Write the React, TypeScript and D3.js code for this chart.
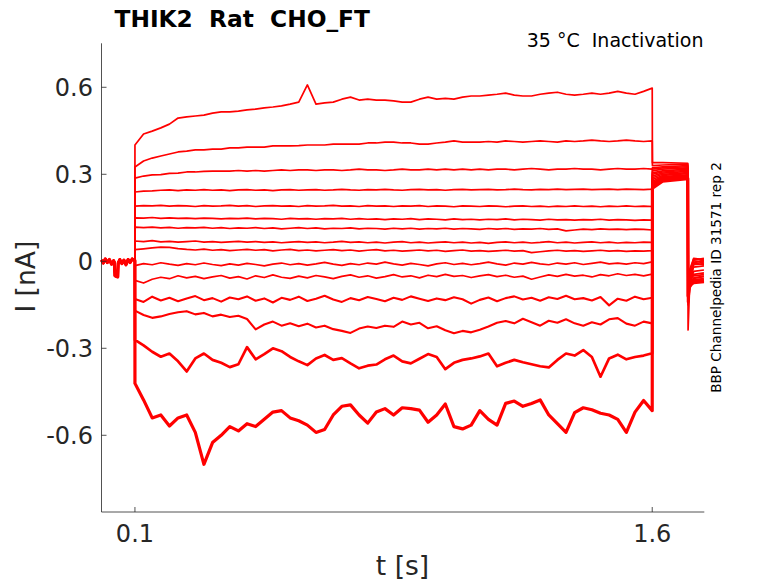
import * as d3 from 'd3';

// holding-current baseline before the step (shared by all sweeps)
const baseTimes = [0.003, 0.008, 0.014, 0.02, 0.026, 0.032, 0.038, 0.0405, 0.042, 0.05, 0.0515, 0.056, 0.062, 0.068, 0.074, 0.08, 0.086, 0.092, 0.0998];
const baseValues = [0.004, -0.006, 0.008, -0.004, 0.006, -0.010, 0.002, -0.004, -0.050, -0.054, -0.006, 0.006, -0.008, 0.004, -0.012, 0.006, -0.004, 0.008, 0.002];

// sample times during the conditioning step (s)
const stepTimes = [
  0.100, 0.125, 0.150, 0.175, 0.200, 0.225, 0.250, 0.275, 0.300, 0.325,
  0.350, 0.375, 0.400, 0.425, 0.450, 0.475, 0.500, 0.525, 0.550, 0.575,
  0.600, 0.625, 0.650, 0.675, 0.700, 0.725, 0.750, 0.775, 0.800, 0.825,
  0.850, 0.875, 0.900, 0.925, 0.950, 0.975, 1.000, 1.025, 1.050, 1.075,
  1.100, 1.125, 1.150, 1.175, 1.200, 1.225, 1.250, 1.275, 1.300, 1.325,
  1.350, 1.375, 1.400, 1.425, 1.450, 1.475, 1.500, 1.525, 1.550, 1.575,
  1.600,
];

// current during the step, one array per sweep (nA)
const sweep1 = [0.401, 0.439, 0.449, 0.460, 0.473, 0.494, 0.498, 0.501, 0.504, 0.511, 0.515, 0.515, 0.518, 0.522, 0.525, 0.529, 0.532, 0.536, 0.542, 0.549, 0.608, 0.542, 0.546, 0.549, 0.559, 0.566, 0.556, 0.559, 0.556, 0.556, 0.553, 0.549, 0.549, 0.559, 0.566, 0.559, 0.562, 0.559, 0.566, 0.570, 0.570, 0.573, 0.576, 0.580, 0.573, 0.570, 0.570, 0.576, 0.580, 0.583, 0.576, 0.573, 0.576, 0.580, 0.576, 0.580, 0.586, 0.580, 0.576, 0.586, 0.597];
const sweep2 = [0.325, 0.346, 0.356, 0.363, 0.370, 0.377, 0.380, 0.384, 0.384, 0.387, 0.387, 0.391, 0.391, 0.394, 0.394, 0.394, 0.398, 0.398, 0.398, 0.399, 0.401, 0.401, 0.401, 0.404, 0.404, 0.404, 0.404, 0.408, 0.408, 0.411, 0.411, 0.408, 0.408, 0.404, 0.404, 0.408, 0.411, 0.415, 0.411, 0.411, 0.411, 0.413, 0.411, 0.415, 0.413, 0.411, 0.413, 0.415, 0.413, 0.411, 0.415, 0.413, 0.415, 0.418, 0.415, 0.413, 0.415, 0.418, 0.415, 0.413, 0.415];
const sweep3 = [0.287, 0.294, 0.298, 0.299, 0.303, 0.304, 0.308, 0.308, 0.310, 0.311, 0.311, 0.311, 0.313, 0.311, 0.313, 0.311, 0.313, 0.315, 0.313, 0.315, 0.315, 0.313, 0.315, 0.315, 0.313, 0.315, 0.318, 0.315, 0.315, 0.313, 0.315, 0.318, 0.315, 0.315, 0.318, 0.315, 0.318, 0.315, 0.318, 0.315, 0.318, 0.315, 0.318, 0.318, 0.315, 0.318, 0.320, 0.318, 0.315, 0.318, 0.318, 0.320, 0.318, 0.318, 0.315, 0.318, 0.320, 0.318, 0.318, 0.320, 0.318];
const sweep4 = [0.239, 0.242, 0.243, 0.245, 0.246, 0.244, 0.246, 0.245, 0.247, 0.245, 0.246, 0.244, 0.246, 0.247, 0.245, 0.246, 0.244, 0.246, 0.247, 0.245, 0.246, 0.247, 0.245, 0.246, 0.248, 0.246, 0.245, 0.247, 0.246, 0.248, 0.246, 0.245, 0.247, 0.248, 0.246, 0.247, 0.245, 0.247, 0.248, 0.246, 0.247, 0.248, 0.246, 0.247, 0.249, 0.247, 0.246, 0.248, 0.247, 0.249, 0.247, 0.248, 0.249, 0.247, 0.248, 0.249, 0.247, 0.249, 0.248, 0.247, 0.249];
const sweep5 = [0.190, 0.192, 0.191, 0.193, 0.190, 0.192, 0.191, 0.189, 0.192, 0.190, 0.191, 0.193, 0.190, 0.192, 0.189, 0.191, 0.192, 0.190, 0.191, 0.189, 0.192, 0.190, 0.191, 0.193, 0.190, 0.191, 0.189, 0.192, 0.190, 0.191, 0.189, 0.191, 0.190, 0.192, 0.189, 0.191, 0.190, 0.188, 0.191, 0.190, 0.189, 0.191, 0.190, 0.188, 0.190, 0.191, 0.189, 0.190, 0.188, 0.190, 0.189, 0.191, 0.189, 0.190, 0.188, 0.190, 0.189, 0.191, 0.189, 0.190, 0.189];
const sweep6 = [0.150, 0.149, 0.151, 0.148, 0.150, 0.148, 0.149, 0.147, 0.149, 0.148, 0.146, 0.148, 0.147, 0.149, 0.146, 0.148, 0.147, 0.145, 0.148, 0.146, 0.147, 0.145, 0.147, 0.146, 0.148, 0.145, 0.147, 0.145, 0.146, 0.144, 0.146, 0.145, 0.147, 0.144, 0.146, 0.145, 0.143, 0.146, 0.144, 0.145, 0.143, 0.145, 0.144, 0.146, 0.143, 0.145, 0.144, 0.142, 0.145, 0.143, 0.144, 0.142, 0.144, 0.143, 0.145, 0.142, 0.144, 0.143, 0.141, 0.143, 0.142];
const sweep7 = [0.118, 0.116, 0.118, 0.115, 0.117, 0.114, 0.116, 0.115, 0.117, 0.114, 0.116, 0.113, 0.115, 0.114, 0.116, 0.113, 0.115, 0.112, 0.114, 0.116, 0.113, 0.115, 0.112, 0.114, 0.113, 0.115, 0.112, 0.114, 0.113, 0.111, 0.114, 0.112, 0.114, 0.111, 0.113, 0.112, 0.114, 0.111, 0.113, 0.112, 0.110, 0.113, 0.111, 0.113, 0.110, 0.112, 0.111, 0.113, 0.110, 0.112, 0.105, 0.108, 0.111, 0.109, 0.112, 0.110, 0.111, 0.109, 0.111, 0.110, 0.108];
const sweep8 = [0.070, 0.068, 0.071, 0.067, 0.069, 0.066, 0.068, 0.070, 0.066, 0.068, 0.065, 0.067, 0.069, 0.066, 0.068, 0.065, 0.067, 0.064, 0.066, 0.068, 0.065, 0.067, 0.064, 0.066, 0.069, 0.065, 0.067, 0.064, 0.066, 0.063, 0.066, 0.068, 0.064, 0.066, 0.063, 0.065, 0.067, 0.064, 0.066, 0.063, 0.065, 0.062, 0.065, 0.067, 0.064, 0.066, 0.063, 0.065, 0.068, 0.064, 0.066, 0.063, 0.065, 0.067, 0.064, 0.066, 0.063, 0.065, 0.064, 0.066, 0.065];
const sweep9 = [0.040, 0.043, 0.046, 0.049, 0.048, 0.044, 0.041, 0.039, 0.042, 0.038, 0.040, 0.037, 0.039, 0.041, 0.038, 0.040, 0.036, 0.039, 0.041, 0.037, 0.039, 0.036, 0.038, 0.040, 0.037, 0.039, 0.035, 0.038, 0.040, 0.036, 0.038, 0.035, 0.037, 0.039, 0.036, 0.038, 0.034, 0.037, 0.039, 0.035, 0.037, 0.034, 0.036, 0.038, 0.035, 0.037, 0.030, 0.033, 0.036, 0.038, 0.035, 0.037, 0.034, 0.036, 0.038, 0.035, 0.037, 0.034, 0.036, 0.035, 0.037];
const sweep10 = [-0.015, -0.008, -0.012, -0.005, -0.010, -0.014, -0.008, -0.012, -0.006, -0.011, -0.015, -0.009, -0.013, -0.007, -0.011, -0.016, -0.010, -0.006, -0.012, -0.008, -0.013, -0.009, -0.004, -0.010, -0.014, -0.008, -0.012, -0.006, -0.010, -0.003, -0.009, -0.013, -0.007, -0.011, -0.016, -0.009, -0.005, -0.011, -0.007, -0.012, -0.008, -0.003, -0.009, -0.013, -0.006, -0.010, -0.004, -0.009, -0.012, -0.006, -0.010, -0.005, -0.011, -0.007, -0.003, -0.009, -0.006, -0.010, -0.005, -0.008, -0.002];
const sweep11 = [-0.066, -0.075, -0.062, -0.055, -0.060, -0.050, -0.057, -0.052, -0.060, -0.054, -0.049, -0.058, -0.053, -0.061, -0.050, -0.056, -0.047, -0.055, -0.059, -0.051, -0.057, -0.049, -0.054, -0.060, -0.052, -0.047, -0.055, -0.050, -0.058, -0.053, -0.046, -0.054, -0.050, -0.057, -0.048, -0.053, -0.045, -0.052, -0.049, -0.056, -0.050, -0.046, -0.053, -0.048, -0.055, -0.051, -0.062, -0.054, -0.047, -0.052, -0.045, -0.051, -0.048, -0.054, -0.046, -0.050, -0.043, -0.049, -0.045, -0.050, -0.044];
const sweep12 = [-0.130, -0.140, -0.122, -0.135, -0.126, -0.138, -0.128, -0.120, -0.134, -0.127, -0.139, -0.125, -0.131, -0.121, -0.136, -0.128, -0.142, -0.126, -0.133, -0.122, -0.137, -0.129, -0.119, -0.132, -0.140, -0.127, -0.134, -0.123, -0.130, -0.138, -0.126, -0.133, -0.121, -0.129, -0.137, -0.128, -0.134, -0.124, -0.131, -0.146, -0.133, -0.125, -0.138, -0.127, -0.121, -0.132, -0.126, -0.136, -0.124, -0.130, -0.119, -0.131, -0.127, -0.135, -0.123, -0.152, -0.129, -0.136, -0.122, -0.131, -0.126];
const sweep13 = [-0.170, -0.185, -0.195, -0.190, -0.182, -0.176, -0.172, -0.183, -0.178, -0.190, -0.184, -0.192, -0.188, -0.199, -0.235, -0.218, -0.208, -0.222, -0.214, -0.224, -0.215, -0.228, -0.222, -0.234, -0.240, -0.247, -0.232, -0.225, -0.230, -0.222, -0.226, -0.208, -0.218, -0.212, -0.231, -0.224, -0.238, -0.248, -0.240, -0.245, -0.236, -0.225, -0.212, -0.206, -0.214, -0.198, -0.210, -0.222, -0.205, -0.212, -0.200, -0.214, -0.222, -0.210, -0.218, -0.200, -0.196, -0.215, -0.222, -0.208, -0.214];
const sweep14 = [-0.271, -0.290, -0.312, -0.329, -0.318, -0.345, -0.380, -0.335, -0.318, -0.340, -0.350, -0.365, -0.355, -0.296, -0.338, -0.320, -0.300, -0.310, -0.330, -0.345, -0.358, -0.335, -0.323, -0.340, -0.334, -0.352, -0.369, -0.360, -0.356, -0.338, -0.325, -0.345, -0.352, -0.336, -0.320, -0.330, -0.372, -0.350, -0.340, -0.335, -0.328, -0.318, -0.362, -0.350, -0.340, -0.348, -0.355, -0.362, -0.366, -0.340, -0.318, -0.325, -0.306, -0.330, -0.398, -0.335, -0.322, -0.338, -0.330, -0.325, -0.317];
const sweep15 = [-0.421, -0.478, -0.540, -0.530, -0.568, -0.540, -0.530, -0.590, -0.700, -0.625, -0.600, -0.570, -0.585, -0.560, -0.570, -0.545, -0.520, -0.515, -0.540, -0.550, -0.565, -0.590, -0.580, -0.530, -0.500, -0.495, -0.530, -0.558, -0.520, -0.508, -0.530, -0.505, -0.508, -0.513, -0.555, -0.530, -0.492, -0.570, -0.578, -0.565, -0.515, -0.545, -0.565, -0.490, -0.482, -0.500, -0.490, -0.478, -0.530, -0.560, -0.590, -0.522, -0.505, -0.512, -0.524, -0.530, -0.545, -0.590, -0.520, -0.480, -0.515];

// test pulse (tail) and return to holding, one value per sweep
const tailTimes = [1.6005, 1.63, 1.703];
const tailOnset = [0.340, 0.330, 0.322, 0.318, 0.312, 0.305, 0.300, 0.294, 0.288, 0.282, 0.276, 0.270, 0.264, 0.258, 0.252];
const tailSettled = [0.340, 0.332, 0.326, 0.322, 0.318, 0.312, 0.308, 0.304, 0.300, 0.296, 0.292, 0.288, 0.284, 0.280, 0.276];
const tailEnd = [0.338, 0.335, 0.330, 0.326, 0.322, 0.318, 0.314, 0.310, 0.306, 0.302, 0.298, 0.295, 0.292, 0.289, 0.285];

const postTimes = [1.704, 1.708, 1.72, 1.75];
const postSpike = [-0.10, -0.12, -0.09, -0.14, -0.11, -0.237, -0.13, -0.10, -0.15, -0.12, -0.11, -0.13, -0.10, -0.14, -0.12];
const postEarly = [-0.04, -0.06, -0.03, -0.07, -0.05, -0.10, -0.06, -0.05, -0.08, -0.07, -0.06, -0.08, -0.07, -0.09, -0.08];
const postLevel = [0.010, 0.004, 0.008, -0.004, 0.002, -0.012, -0.006, -0.020, -0.035, -0.045, -0.050, -0.058, -0.064, -0.070, -0.074];
const postEnd = [0.006, 0.010, 0.002, 0.000, -0.006, -0.008, -0.012, -0.016, -0.030, -0.040, -0.046, -0.052, -0.060, -0.066, -0.070];

const sweeps = [sweep1, sweep2, sweep3, sweep4, sweep5, sweep6, sweep7, sweep8, sweep9, sweep10, sweep11, sweep12, sweep13, sweep14, sweep15];

const xTicks = [0.1, 1.6];
const xTickLabels = ['0.1', '1.6'];
const yTicks = [0.6, 0.3, 0, -0.3, -0.6];
const yTickLabels = ['0.6', '0.3', '0', '-0.3', '-0.6'];

const W = 778;
const H = 583;
const FONT = 'DejaVu Sans, Verdana, sans-serif';
const AXIS = '#262626';

// noisier sweeps get a heavier stroke so they read as a noise band
const strokeFor = (i: number) => (i >= 14 ? 3.2 : i === 13 ? 2.7 : i >= 11 ? 2.1 : 1.7);

const App = () => {
  const x = d3.scaleLinear().domain([0.003, 1.751]).range([101.5, 704.3]);
  const y = d3.scaleLinear().domain([-0.8645, 0.7517]).range([512, 43.3]);

  const line = d3
    .line<[number, number]>()
    .x((d) => x(d[0]))
    .y((d) => y(d[1]));

  const paths = sweeps.map((s, i) => {
    const pts: [number, number][] = [];
    baseTimes.forEach((t, j) => pts.push([t, baseValues[j]]));
    stepTimes.forEach((t, k) => pts.push([t, s[k]]));
    pts.push([tailTimes[0], tailOnset[i]]);
    pts.push([tailTimes[1], tailSettled[i]]);
    pts.push([tailTimes[2], tailEnd[i]]);
    pts.push([postTimes[0], postSpike[i]]);
    pts.push([postTimes[1], postEarly[i]]);
    pts.push([postTimes[2], postLevel[i]]);
    pts.push([postTimes[3], postEnd[i]]);
    return line(pts) || '';
  });

  const [x0, x1] = x.range();
  const [y0, y1] = y.range();

  return (
    <svg
      width={W}
      height={H}
      style={{ position: 'absolute', left: 0, top: 0, background: '#fff' }}
      fontFamily={FONT}
    >
      <rect width={W} height={H} fill="#fff" />

      {/* traces */}
      <g fill="none" stroke="#ff0000" strokeLinejoin="round">
        {paths.map((d, i) => (
          <path key={i} d={d} strokeWidth={strokeFor(i)} />
        ))}
      </g>

      {/* y axis */}
      <line x1={x0} x2={x0} y1={y0} y2={y1} stroke={AXIS} strokeWidth={0.8} />
      {yTicks.map((v, i) => (
        <g key={v}>
          <line x1={x0} x2={x0 + 5} y1={y(v)} y2={y(v)} stroke={AXIS} strokeWidth={0.8} />
          <text x={93} y={y(v) + 8.7} textAnchor="end" fontSize={24} fill={AXIS}>
            {yTickLabels[i]}
          </text>
        </g>
      ))}

      {/* x axis */}
      <line x1={x0} x2={x1} y1={y0} y2={y0} stroke={AXIS} strokeWidth={0.8} />
      {xTicks.map((v, i) => (
        <g key={v}>
          <line x1={x(v)} x2={x(v)} y1={y0} y2={y0 - 5} stroke={AXIS} strokeWidth={0.8} />
          <text x={x(v)} y={542} textAnchor="middle" fontSize={24} fill={AXIS}>
            {xTickLabels[i]}
          </text>
        </g>
      ))}

      {/* axis labels */}
      <text x={402.5} y={574.5} textAnchor="middle" fontSize={26.5} fill={AXIS}>
        t [s]
      </text>
      <text
        transform="translate(35,276.7) rotate(-90)"
        textAnchor="middle"
        fontSize={26.5}
        fill={AXIS}
      >
        I [nA]
      </text>

      {/* titles and notes */}
      <text x={114.5} y={26.7} fontSize={23.3} fontWeight="bold" fill="#000" style={{ whiteSpace: 'pre' }}>
        THIK2  Rat  CHO_FT
      </text>
      <text x={703.5} y={46.7} textAnchor="end" fontSize={19} fill="#000" style={{ whiteSpace: 'pre' }}>
        35 °C  Inactivation
      </text>
      <text
        transform="translate(720.5,277.5) rotate(-90)"
        textAnchor="middle"
        fontSize={13.6}
        fill="#000"
      >
        BBP Channelpedia ID 31571 rep 2
      </text>
    </svg>
  );
};

export default App;
